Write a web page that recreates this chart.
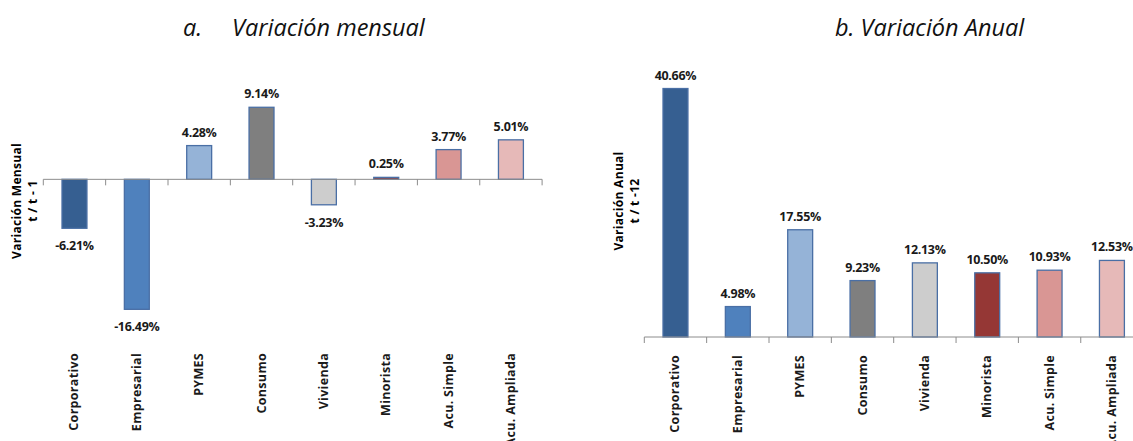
<!DOCTYPE html>
<html>
<head>
<meta charset="utf-8">
<script src="https://cdn.jsdelivr.net/npm/d3@7"></script>
<style>
  body { margin: 0; background: #fff; }
  text { font-family: "Open Sans", "DejaVu Sans", sans-serif; }
</style>
</head>
<body>
<div id="chart"></div>
<script>
//Data
var categories = ["Corporativo", "Empresarial", "PYMES", "Consumo", "Vivienda", "Minorista", "Acu. Simple", "Acu. Ampliada"];
var mensual = [-6.21, -16.49, 4.28, 9.14, -3.23, 0.25, 3.77, 5.01];
var anual = [40.66, 4.98, 17.55, 9.23, 12.13, 10.50, 10.93, 12.53];
var barColors = ["#365f91", "#4f81bd", "#95b3d7", "#7f7f7f", "#cdcdcd", "#953735", "#d99694", "#e6b9b8"];

var width = 1133;
var height = 441;

var svg = d3
  .select("#chart")
  .append("svg")
  .attr("width", width)
  .attr("height", height);

//Draw one panel: x position of the axis, y scale, title bits
function panel(opts) {
	var g = svg.append("g");

	var x = d3
	  .scaleBand()
	  .domain(categories)
	  .range([opts.x0, opts.x0 + 8 * 62.35]);

	var y = d3
	  .scaleLinear()
	  .domain(opts.domain)
	  .range(opts.range);

	var barW = x.bandwidth() * 0.4;

	//bars
	g.selectAll("rect")
	  .data(opts.values)
	  .enter()
	  .append("rect")
	  .attr("x", function(d, i) { return x(categories[i]) + (x.bandwidth() - barW) / 2; })
	  .attr("y", function(d) { return y(Math.max(0, d)); })
	  .attr("width", barW)
	  .attr("height", function(d) { return Math.abs(y(d) - y(0)); })
	  .attr("fill", function(d, i) { return barColors[i]; })
	  .attr("stroke", "#4a6fa5")
	  .attr("stroke-width", 1.3);

	//category axis at zero, ticks between the bands
	var axisY = y(0);
	g.append("line")
	  .attr("x1", opts.x0)
	  .attr("x2", opts.x0 + 8 * 62.35)
	  .attr("y1", axisY)
	  .attr("y2", axisY)
	  .attr("stroke", "#8c8c8c")
	  .attr("stroke-width", 1);

	var edges = categories.map(function(c) { return x(c); });
	edges.push(opts.x0 + 8 * 62.35);
	g.selectAll(".tick")
	  .data(edges)
	  .enter()
	  .append("line")
	  .attr("x1", function(d) { return d; })
	  .attr("x2", function(d) { return d; })
	  .attr("y1", axisY)
	  .attr("y2", axisY + 6)
	  .attr("stroke", "#8c8c8c");

	//value labels
	g.selectAll(".val")
	  .data(opts.values)
	  .enter()
	  .append("text")
	  .attr("x", function(d, i) { return x(categories[i]) + x.bandwidth() / 2; })
	  .attr("y", function(d) { return d >= 0 ? y(d) - 9 : y(d) + 22; })
	  .attr("text-anchor", "middle")
	  .attr("font-size", 12.5)
	  .attr("font-weight", "bold")
	  .attr("letter-spacing", -0.3)
	  .attr("fill", "#1a1a1a")
	  .text(function(d) { return d.toFixed(2) + "%"; });

	//category labels at the bottom, rotated
	g.selectAll(".cat")
	  .data(categories)
	  .enter()
	  .append("text")
	  .attr("transform", function(d) {
	  	return "translate(" + (x(d) + x.bandwidth() / 2 + 4) + "," + opts.labelY + ")rotate(-90)";
	  })
	  .attr("text-anchor", "end")
	  .attr("font-size", 12.5)
	  .attr("font-weight", "bold")
	  .attr("letter-spacing", 0.3)
	  .attr("fill", "#1a1a1a")
	  .text(function(d) { return d; });

	//axis title, two lines
	var yt = g.append("g")
	  .attr("transform", "translate(" + opts.titleX + "," + opts.titleY + ")rotate(-90)");
	yt.append("text")
	  .attr("text-anchor", "middle")
	  .attr("font-size", 12)
	  .attr("font-weight", "bold")
	  .attr("letter-spacing", 0.3)
	  .text(opts.yTitle[0]);
	yt.append("text")
	  .attr("y", 16)
	  .attr("text-anchor", "middle")
	  .attr("font-size", 12)
	  .attr("font-weight", "bold")
	  .attr("letter-spacing", 0.3)
	  .text(opts.yTitle[1]);
}

panel({
	x0: 43.3,
	values: mensual,
	domain: [-20, 10],
	range: [337, 100.5],
	labelY: 353,
	titleX: 21,
	titleY: 201,
	yTitle: ["Variación Mensual", "t / t - 1"]
});

panel({
	x0: 644.3,
	values: anual,
	domain: [0, 45],
	range: [337, 62],
	labelY: 355,
	titleX: 623,
	titleY: 201,
	yTitle: ["Variación Anual", "t / t -12"]
});

//panel titles
var t1 = svg.append("text")
  .attr("y", 36)
  .attr("font-size", 23.5)
  .attr("font-style", "italic")
  .attr("fill", "#111");
t1.append("tspan").attr("x", 183).text("a.");
t1.append("tspan").attr("x", 232).text("Variación mensual");

svg.append("text")
  .attr("x", 835)
  .attr("y", 36)
  .attr("font-size", 23.5)
  .attr("font-style", "italic")
  .attr("fill", "#111")
  .text("b. Variación Anual");
</script>
</body>
</html>
